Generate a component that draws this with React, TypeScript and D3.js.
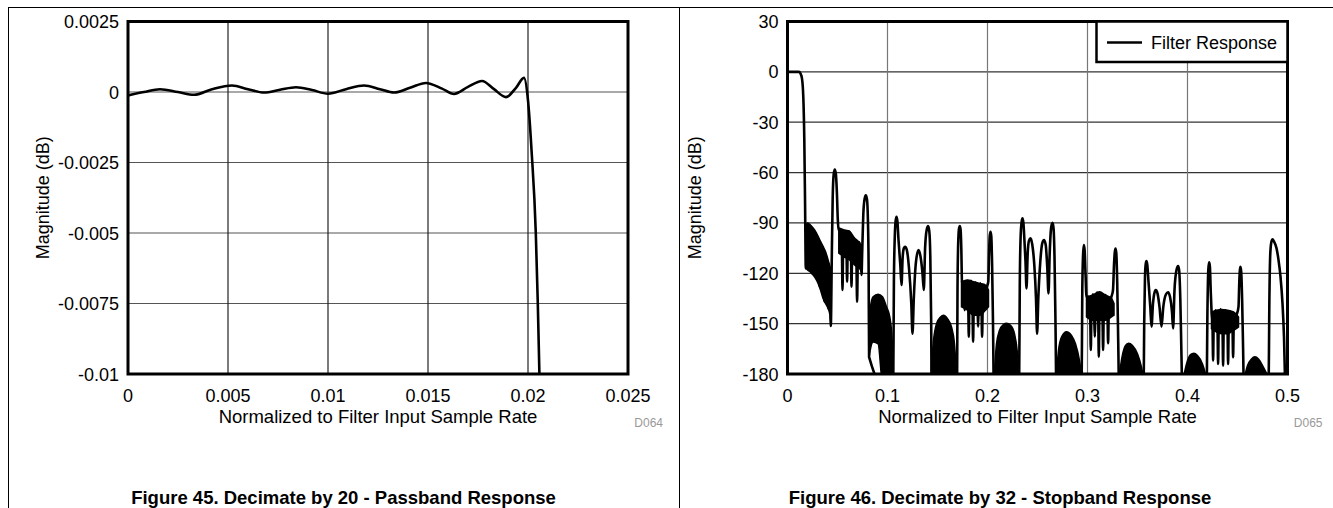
import React from 'react';
import * as d3 from 'd3';

// ---------- ticks ----------
const leftXTicks = [0, 0.005, 0.01, 0.015, 0.02, 0.025];
const leftXTickLabels = ['0', '0.005', '0.01', '0.015', '0.02', '0.025'];
const leftYTicks = [0.0025, 0, -0.0025, -0.005, -0.0075, -0.01];
const leftYTickLabels = ['0.0025', '0', '-0.0025', '-0.005', '-0.0075', '-0.01'];
const rightXTicks = [0, 0.1, 0.2, 0.3, 0.4, 0.5];
const rightXTickLabels = ['0', '0.1', '0.2', '0.3', '0.4', '0.5'];
const rightYTicks = [30, 0, -30, -60, -90, -120, -150, -180];
const rightYTickLabels = ['30', '0', '-30', '-60', '-90', '-120', '-150', '-180'];

// ---------- Figure 45: passband response [freq, dB] ----------
const passband: [number, number][] = [
  [0.0, -0.00012], [0.0008, 0.0], [0.0016, 0.0001], [0.0025, 0.0], [0.0033, -0.0001],
  [0.0042, 0.0001], [0.0052, 0.00023], [0.006, 0.0001], [0.0068, -0.00002], [0.0076, 0.00008],
  [0.0084, 0.00017], [0.0092, 0.00007], [0.01, -0.00006], [0.0109, 0.0001], [0.0118, 0.00023],
  [0.0126, 0.0001], [0.0133, -0.00002], [0.0141, 0.00015], [0.0149, 0.00032], [0.0157, 0.00012],
  [0.0163, -0.00007], [0.017, 0.00018], [0.0177, 0.00039], [0.0183, 0.0001], [0.0189, -0.00018],
  [0.0194, 0.00015], [0.0198, 0.0005], [0.02, -0.0003], [0.02018, -0.0021], [0.02039, -0.005],
  [0.02049, -0.0075], [0.02057, -0.01], [0.02065, -0.0125],
];

// ---------- Figure 46: stopband response [freq, dB] ----------
const stopbandLine: [number, number][] = [
  [0, 0], [0.006, 0], [0.0115, 0], [0.013, -1], [0.0145, -4], [0.0158, -15], [0.0168, -40], [0.0176, -80], [0.0183, -117],
  [0.0195, -100], [0.0205, -117], [0.0225, -104], [0.0245, -120], [0.0265, -108], [0.028, -122], [0.03, -112],
  [0.0323, -128], [0.0345, -118], [0.0373, -137], [0.039, -125], [0.041, -141], [0.0425, -130], [0.0433, -151.4],
  [0.0443, -110], [0.0452, -75], [0.0462, -61], [0.0473, -58.2], [0.0484, -61], [0.0494, -72], [0.0503, -88], [0.0513, -94],
  [0.0533, -94.5], [0.0544, -105], [0.055, -130], [0.0556, -105], [0.0566, -95.3], [0.058, -95], [0.059, -105], [0.0596, -125],
  [0.0602, -105], [0.0613, -95], [0.0625, -96], [0.0635, -108], [0.064, -128], [0.0646, -108], [0.0658, -99], [0.0675, -100.5],
  [0.0689, -112], [0.0696, -137], [0.0703, -112], [0.0715, -101.5], [0.0727, -104], [0.0735, -112], [0.074, -121],
  [0.0748, -105], [0.0758, -85], [0.077, -76], [0.0783, -73.5], [0.0795, -76], [0.0804, -88], [0.0811, -115], [0.0816, -170],
  [0.1056, -195],
  [0.1064, -125], [0.1073, -98], [0.1081, -89], [0.109, -86.3], [0.1099, -89], [0.111, -100], [0.1128, -115], [0.114, -127],
  [0.1152, -110], [0.1164, -105], [0.1176, -104.2], [0.1193, -106], [0.1215, -117], [0.1238, -138], [0.125, -156],
  [0.1263, -135], [0.1285, -113], [0.131, -106.2], [0.133, -110], [0.135, -120], [0.1363, -130],
  [0.1376, -105], [0.1392, -94], [0.1406, -91.9], [0.1418, -95], [0.1428, -110], [0.1437, -150], [0.1442, -195],
  [0.1695, -195],
  [0.17, -130], [0.1708, -100], [0.1716, -93], [0.1723, -91.9], [0.1731, -94], [0.1738, -105], [0.1745, -125],
  [0.176, -126], [0.1768, -138], [0.1773, -142], [0.1778, -130], [0.1795, -124.5], [0.1808, -140], [0.1813, -157.8], [0.1818, -140],
  [0.1835, -124.5], [0.185, -140], [0.1856, -160.8], [0.1862, -140], [0.188, -125.5], [0.19, -138], [0.1906, -151.8], [0.1912, -138],
  [0.1928, -126], [0.194, -140], [0.1946, -157.8], [0.1952, -140], [0.1968, -127], [0.1978, -136], [0.1983, -140], [0.199, -130],
  [0.2, -127], [0.2008, -125],
  [0.2015, -110], [0.2022, -98], [0.203, -95.3], [0.2038, -98], [0.2046, -115], [0.2055, -150], [0.2065, -195],
  [0.2315, -195],
  [0.2323, -125], [0.2332, -97], [0.2341, -89.5], [0.235, -87.3], [0.2359, -90], [0.2369, -100], [0.238, -113], [0.239, -129],
  [0.2402, -108], [0.2415, -100.5], [0.243, -99.2], [0.2448, -103], [0.2468, -115], [0.2485, -135], [0.2496, -156],
  [0.2508, -135], [0.2528, -113], [0.2548, -102], [0.2565, -100.2], [0.2582, -103], [0.2598, -117], [0.261, -132],
  [0.2622, -108], [0.2636, -93], [0.265, -89.9], [0.266, -93], [0.267, -110], [0.268, -150], [0.269, -195],
  [0.294, -195],
  [0.2948, -130], [0.2955, -110], [0.2963, -103.2], [0.2971, -106], [0.298, -120], [0.299, -134],
  [0.301, -134], [0.3027, -145], [0.3033, -165.7], [0.3039, -145], [0.3055, -132.5], [0.3067, -145], [0.3073, -157.8], [0.3079, -145],
  [0.3095, -131.5], [0.3107, -145], [0.3113, -169.7], [0.3119, -145], [0.3135, -132], [0.315, -145], [0.3156, -165.7], [0.3162, -145],
  [0.3182, -133], [0.32, -145], [0.3206, -161.7], [0.3212, -145], [0.3235, -135], [0.3255, -130],
  [0.3265, -115], [0.3272, -108], [0.328, -105.2], [0.3288, -108], [0.3297, -125], [0.3307, -160], [0.3318, -195],
  [0.356, -195],
  [0.3567, -150], [0.3575, -122], [0.3582, -114.5], [0.359, -112.7], [0.3598, -115], [0.361, -125], [0.3628, -140], [0.364, -151.8],
  [0.3655, -138], [0.3668, -132], [0.3683, -130], [0.37, -132], [0.372, -140], [0.374, -151.8],
  [0.3758, -140], [0.3785, -132.5], [0.3806, -131.3], [0.3825, -134], [0.3845, -143], [0.3856, -152.8],
  [0.387, -130], [0.389, -118], [0.3906, -115.7], [0.3916, -118], [0.3928, -135], [0.394, -170], [0.395, -195],
  [0.419, -195],
  [0.42, -140], [0.4208, -118], [0.4216, -113.5], [0.4224, -116], [0.4232, -130], [0.424, -142],
  [0.425, -150], [0.4256, -172], [0.4262, -150], [0.428, -142], [0.43, -152], [0.4306, -174], [0.4312, -152], [0.433, -141.5],
  [0.435, -152], [0.4356, -175], [0.4362, -152], [0.438, -142], [0.44, -152], [0.4406, -174], [0.4412, -152], [0.443, -143],
  [0.445, -152], [0.4456, -170], [0.4462, -152], [0.449, -145], [0.451, -140],
  [0.4518, -125], [0.4524, -118], [0.453, -116.1], [0.4537, -119], [0.4546, -135], [0.4556, -165], [0.4566, -195],
  [0.481, -195],
  [0.4818, -140], [0.4828, -108], [0.484, -101], [0.485, -99.8], [0.4865, -101], [0.489, -105], [0.491, -112], [0.493, -122],
  [0.495, -138], [0.4965, -158], [0.4978, -190],
];

// dense oscillation bands [freq, upper dB, lower dB]
const fuzzA: [number, number, number][] = [
  [0.0183, -92, -117], [0.02, -90, -118], [0.0225, -91, -119], [0.0256, -93, -121], [0.028, -95, -123], [0.0306, -98, -126],
  [0.033, -101, -130], [0.0356, -104, -135], [0.038, -107, -138], [0.0406, -112, -141], [0.0425, -116, -145], [0.0435, -118, -151],
];
const fuzzB: [number, number, number][] = [
  [0.0513, -93, -108], [0.056, -94, -110], [0.062, -95, -112], [0.067, -99, -115], [0.072, -102, -117], [0.0745, -110, -120],
];
const fuzzC: [number, number, number][] = [
  [0.0816, -150, -170], [0.083, -140, -165], [0.0856, -134, -161], [0.0906, -132.5, -162], [0.095, -134, -185],
  [0.099, -140, -185], [0.1023, -146, -185], [0.1045, -158, -185], [0.1058, -175, -185],
];
const fuzzD: [number, number, number][] = [
  [0.144, -175, -185], [0.146, -160, -185], [0.149, -150, -185], [0.153, -146, -185], [0.156, -145, -185],
  [0.16, -147, -185], [0.164, -152, -185], [0.167, -162, -185], [0.169, -180, -185],
];
const fuzzE: [number, number, number][] = [
  [0.174, -125, -140], [0.18, -124, -142], [0.186, -125, -145], [0.192, -126, -145], [0.198, -127, -142], [0.201, -130, -140],
];
const fuzzF: [number, number, number][] = [
  [0.207, -178, -185], [0.209, -162, -185], [0.212, -154, -185], [0.216, -150.5, -185], [0.219, -149.8, -185],
  [0.223, -151, -185], [0.227, -156, -185], [0.23, -168, -185], [0.2315, -180, -185],
];
const fuzzG: [number, number, number][] = [
  [0.269, -180, -185], [0.271, -166, -185], [0.274, -158, -185], [0.279, -154.8, -185], [0.284, -157, -185],
  [0.288, -162, -185], [0.292, -172, -185], [0.294, -180, -185],
];
const fuzzH: [number, number, number][] = [
  [0.299, -134, -146], [0.305, -133, -148], [0.312, -131, -148], [0.318, -133, -148], [0.324, -135, -146], [0.3265, -138, -145],
];
const fuzzI: [number, number, number][] = [
  [0.332, -180, -185], [0.3345, -170, -185], [0.338, -163, -185], [0.341, -161.7, -185], [0.345, -163, -185],
  [0.35, -168, -185], [0.354, -176, -185], [0.356, -182, -185],
];
const fuzzJ: [number, number, number][] = [
  [0.396, -182, -185], [0.399, -174, -185], [0.403, -168.5, -185], [0.4063, -167.7, -185], [0.41, -169, -185],
  [0.415, -174, -185], [0.419, -182, -185],
];
const fuzzK: [number, number, number][] = [
  [0.424, -143, -153], [0.429, -142, -155], [0.434, -141.5, -156], [0.44, -142, -156], [0.446, -143, -154], [0.451, -146, -152],
];
const fuzzL: [number, number, number][] = [
  [0.457, -182, -185], [0.46, -175, -185], [0.464, -171, -185], [0.4673, -169.7, -185], [0.471, -171, -185],
  [0.476, -176, -185], [0.481, -182, -185],
];
const stopbandFuzz = [fuzzA, fuzzB, fuzzC, fuzzD, fuzzE, fuzzF, fuzzG, fuzzH, fuzzI, fuzzJ, fuzzK, fuzzL];

const legendLabel = 'Filter Response';
const FONT = "'Liberation Sans', Arial, Helvetica, sans-serif";

type PlotProps = {
  id: string;
  left: number; right: number; top: number; bottom: number;
  xDomain: [number, number]; yDomain: [number, number];
  xTicks: number[]; xLabels: string[]; yTicks: number[]; yLabels: string[];
  line: [number, number][];
  fuzz?: [number, number, number][][];
  vGridColor: string; hGridColor: string;
  legend?: boolean;
  caption: string; code: string;
  panelLeft: number; panelRight: number;
};

function Plot(p: PlotProps) {
  const xs = d3.scaleLinear().domain(p.xDomain).range([p.left, p.right]);
  const ys = d3.scaleLinear().domain(p.yDomain).range([p.bottom, p.top]);
  const lineGen = d3.line<[number, number]>().x(d => xs(d[0])).y(d => ys(d[1])).curve(d3.curveMonotoneX);
  const areaGen = d3.area<[number, number, number]>()
    .x(d => xs(d[0])).y0(d => ys(d[2])).y1(d => ys(d[1])).curve(d3.curveMonotoneX);
  const cx = (p.left + p.right) / 2;
  const cy = (p.top + p.bottom) / 2;
  return (
    <g>
      <defs>
        <clipPath id={p.id}>
          <rect x={p.left} y={p.top} width={p.right - p.left} height={p.bottom - p.top} />
        </clipPath>
      </defs>
      <rect x={p.left} y={p.top} width={p.right - p.left} height={p.bottom - p.top} fill="#fff" />
      {p.yTicks.map((t, i) => (
        <line key={'h' + i} x1={p.left} x2={p.right} y1={ys(t)} y2={ys(t)} stroke={p.hGridColor} strokeWidth={1.2} />
      ))}
      {p.xTicks.map((t, i) => (
        <line key={'v' + i} x1={xs(t)} x2={xs(t)} y1={p.top} y2={p.bottom} stroke={p.vGridColor} strokeWidth={1.2} />
      ))}
      <g clipPath={`url(#${p.id})`}>
        {(p.fuzz || []).map((band, i) => (
          <path key={'f' + i} d={areaGen(band) || ''} fill="#000" stroke="#000" strokeWidth={1.5} />
        ))}
        <path d={lineGen(p.line) || ''} fill="none" stroke="#000" strokeWidth={2.6} strokeLinejoin="round" />
      </g>
      <rect x={p.left} y={p.top} width={p.right - p.left} height={p.bottom - p.top} fill="none" stroke="#000" strokeWidth={3} />
      {p.legend && (
        <g>
          <rect x={1096.5} y={p.top} width={p.right - 1096.5} height={40.5} fill="#fff" stroke="#000" strokeWidth={2.5} />
          <line x1={1107} x2={1142} y1={42.5} y2={42.5} stroke="#000" strokeWidth={2.5} />
          <text x={1151} y={49} fontSize={18} fontFamily={FONT} fill="#000">{legendLabel}</text>
        </g>
      )}
      {p.yTicks.map((t, i) => (
        <text key={'yl' + i} x={p.left - 9} y={ys(t) + 6.5} textAnchor="end" fontSize={18} fontFamily={FONT} fill="#000">
          {p.yLabels[i]}
        </text>
      ))}
      {p.xTicks.map((t, i) => (
        <text key={'xl' + i} x={xs(t)} y={402} textAnchor="middle" fontSize={18} fontFamily={FONT} fill="#000">
          {p.xLabels[i]}
        </text>
      ))}
      <text x={cx} y={423} textAnchor="middle" fontSize={18.5} fontFamily={FONT} fill="#000">
        Normalized to Filter Input Sample Rate
      </text>
      <text transform={`translate(${p.panelLeft + 35},${cy}) rotate(-90)`} textAnchor="middle" fontSize={18} fontFamily={FONT} dy={6} fill="#000">
        Magnitude (dB)
      </text>
      <text x={p.right + 35} y={427} textAnchor="end" fontSize={12} fontFamily={FONT} fill="#999">
        {p.code}
      </text>
      <text x={(p.panelLeft + p.panelRight) / 2} y={504} textAnchor="middle" fontSize={18.5} fontWeight="bold" fontFamily={FONT} fill="#000">
        {p.caption}
      </text>
    </g>
  );
}

export default function App() {
  return (
    <svg width={1333} height={508} style={{ position: 'absolute', left: 0, top: 0, background: '#fff' }}>
      <rect x={0} y={0} width={1333} height={508} fill="#fff" />
      <line x1={8} x2={1333} y1={7.5} y2={7.5} stroke="#000" strokeWidth={1} />
      <line x1={8.5} x2={8.5} y1={7} y2={508} stroke="#000" strokeWidth={1} />
      <line x1={679.5} x2={679.5} y1={7} y2={508} stroke="#000" strokeWidth={1} />
      <Plot
        id="clipL" left={128} right={628} top={21.5} bottom={374}
        xDomain={[0, 0.025]} yDomain={[-0.01, 0.0025]}
        xTicks={leftXTicks} xLabels={leftXTickLabels} yTicks={leftYTicks} yLabels={leftYTickLabels}
        line={passband} vGridColor="#222" hGridColor="#555"
        caption="Figure 45. Decimate by 20 - Passband Response" code="D064"
        panelLeft={8} panelRight={679}
      />
      <Plot
        id="clipR" left={787.5} right={1287.5} top={21.5} bottom={374}
        xDomain={[0, 0.5]} yDomain={[-180, 30]}
        xTicks={rightXTicks} xLabels={rightXTickLabels} yTicks={rightYTicks} yLabels={rightYTickLabels}
        line={stopbandLine} fuzz={stopbandFuzz} vGridColor="#777" hGridColor="#333" legend
        caption="Figure 46. Decimate by 32 - Stopband Response" code="D065"
        panelLeft={660} panelRight={1340}
      />
    </svg>
  );
}
